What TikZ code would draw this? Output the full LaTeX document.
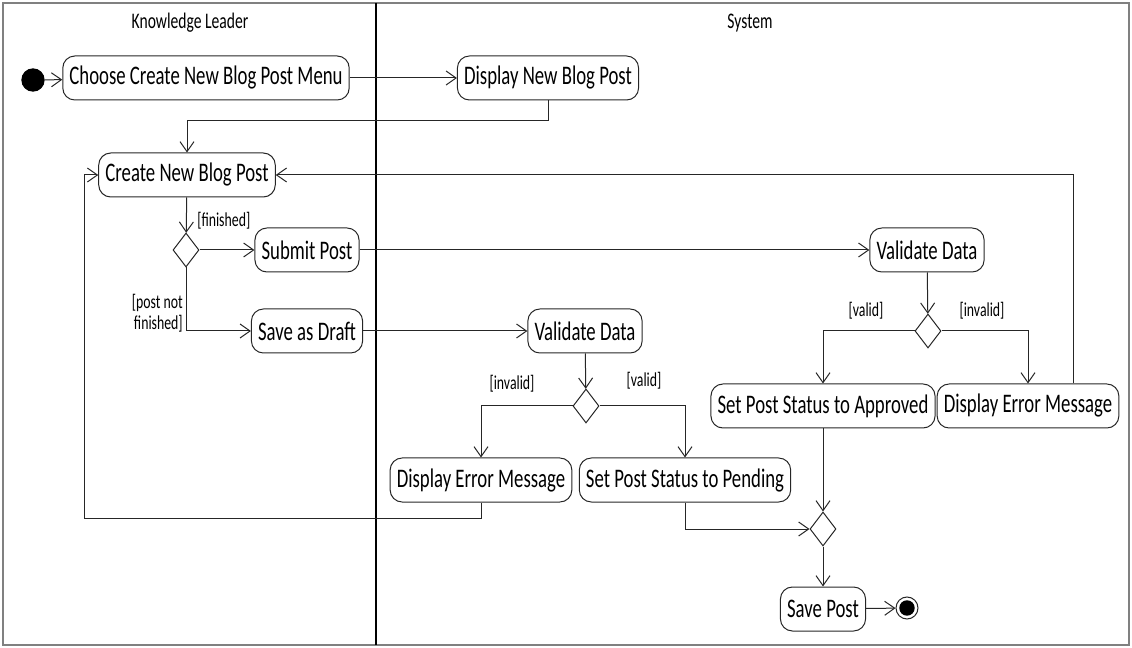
\documentclass[tikz,border=0pt]{standalone}
\usepackage{fontspec}
\usetikzlibrary{arrows.meta,shapes.geometric,calc}
\newfontfamily\umlfont[FakeStretch=0.7]{Carlito}

\begin{document}
\begin{tikzpicture}[x=0.75pt,y=-0.75pt,
	act/.style={draw=black!85,rounded corners=9pt,line width=0.75pt,minimum height=33pt,inner xsep=5pt,font=\umlfont\fontsize{20.1}{22}\selectfont},
	dec/.style={draw=black!85,diamond,line width=0.75pt,inner sep=0pt,minimum width=19.5pt,minimum height=25.5pt},
	flow/.style={draw=black!85,line width=0.75pt,-{Straight Barb[length=7.5pt,width=10.5pt]}},
	guard/.style={font=\umlfont\fontsize{14.8}{16}\selectfont,inner sep=0pt},
	lane/.style={font=\umlfont\fontsize{16.7}{18}\selectfont}]
	\useasboundingbox (0,0) rectangle (1132,648);
	%%  Swimlanes  %%%%%%%%
	\draw[gray,line width=1.2pt] (3,3) rectangle (1129,645);
	\draw[line width=1.2pt] (376,3) -- (376,645);
	\node[lane] (kl) at (190,23) {Knowledge Leader};
	\node[lane] (sys) at (750,23) {System};
	%%  Activities  %%%%%%%%
	\node[circle,fill=black,minimum size=17.5pt,inner sep=0pt] (start) at (33,80) {};
	\node[act] (choose) at (206,78) {Choose Create New Blog Post Menu};
	\node[act] (disp) at (548,78) {Display New Blog Post};
	\node[act] (create) at (187,175) {Create New Blog Post};
	\node[dec] (dia1) at (186,250) {};
	\node[act] (submit) at (307,250) {Submit Post};
	\node[act] (draft) at (307,331) {Save as Draft};
	\node[act] (valA) at (585,331) {Validate Data};
	\node[dec] (dia2) at (586,406) {};
	\node[act] (errA) at (481,480) {Display Error Message};
	\node[act] (pend) at (685,480) {Set Post Status to Pending};
	\node[act] (valB) at (927,250) {Validate Data};
	\node[dec] (dia4) at (928,331) {};
	\node[act] (appr) at (823,406) {Set Post Status to Approved};
	\node[act] (errB) at (1028,406) {Display Error Message};
	\node[dec] (dia3) at (823,529) {};
	\node[act] (savep) at (823,609) {Save Post};
	\node[circle,draw=black!85,line width=0.75pt,minimum size=16.5pt,inner sep=0pt,
		path picture={\fill (path picture bounding box.center) circle (5.8pt);}] (fin) at (907,608) {};
	%%  Guards  %%%%%%%%
	\node[guard,anchor=west] (g1) at (197,221) {[finished]};
	\node[guard,anchor=east,align=right] (g2) at (183,313) {[post not\\finished]};
	\node[guard] (g3) at (512,384) {[invalid]};
	\node[guard] (g4) at (644,381) {[valid]};
	\node[guard] (g5) at (866,311) {[valid]};
	\node[guard] (g6) at (982,311) {[invalid]};
	%%  Flows  %%%%%%%%
	\draw[flow] (start) -- (choose);
	\draw[flow] (choose) -- (disp);
	\draw[flow] (disp.south) -- ++(0,20) -| (create.north);
	\draw[flow] (create) -- (dia1);
	\draw[flow] (dia1) -- (submit);
	\draw[flow] (dia1.south) |- (draft.west);
	\draw[flow] (submit) -- (valB);
	\draw[flow] (draft) -- (valA);
	\draw[flow] (valA) -- (dia2);
	\draw[flow] (dia2.west) -| (errA.north);
	\draw[flow] (dia2.east) -| (pend.north);
	\draw[flow] (errA.south) -- ++(0,16) -| ($(create.west)+(-14,0)$) -- (create.west);
	\draw[flow] ($(errB.north)+(45,0)$) |- (create.east);
	\draw[flow] (valB) -- (dia4);
	\draw[flow] (dia4.west) -| (appr.north);
	\draw[flow] (dia4.east) -| (errB.north);
	\draw[flow] (appr) -- (dia3);
	\draw[flow] (pend.south) |- (dia3.west);
	\draw[flow] (dia3) -- (savep);
	\draw[flow] (savep) -- (fin);
	%%%%%%%%%%%%%%%
\end{tikzpicture}
\end{document}
